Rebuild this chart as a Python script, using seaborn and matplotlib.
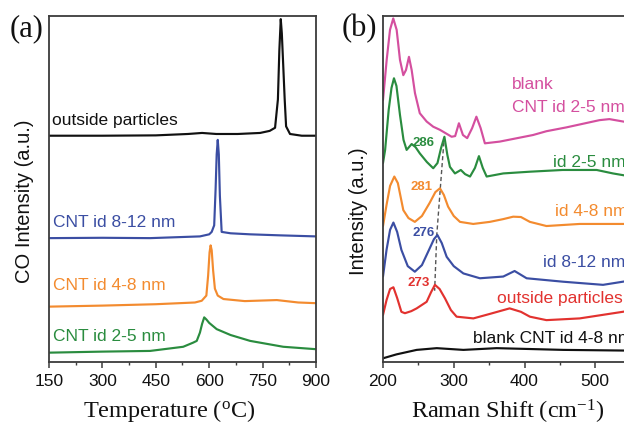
import numpy as np
import pandas as pd
import matplotlib
matplotlib.use("Agg")
import matplotlib.pyplot as plt
import seaborn as sns
from matplotlib.ticker import MultipleLocator

# ---------------- data : panel (a) TPO CO intensity ----------------
t_outside = [150, 300, 450, 540, 580, 620, 680, 743, 770, 785, 793, 797, 801, 804, 808, 812, 816, 827, 860, 900]
i_outside = [65.4, 65.4, 65.5, 65.9, 66.2, 65.9, 65.9, 66.2, 66.8, 67.7, 75.9, 90.0, 99.1, 95.0, 85.6, 76.0, 68.1, 65.9, 65.4, 65.4]

t_812 = [150, 300, 434, 574, 600, 607, 614, 618, 621, 624, 627, 630, 635, 660, 715, 800, 900]
i_812 = [35.8, 35.9, 35.8, 36.3, 36.9, 37.6, 39.5, 50.0, 60.0, 64.2, 60.0, 48.0, 37.6, 37.2, 36.9, 36.6, 36.3]

t_48 = [150, 300, 450, 560, 579, 592, 597, 601, 604, 607, 611, 616, 624, 640, 700, 790, 850, 900]
i_48 = [16.0, 16.3, 16.7, 17.2, 17.7, 19.2, 25.0, 31.7, 33.7, 32.3, 26.5, 21.2, 19.2, 18.2, 17.6, 17.9, 17.2, 17.0]

t_25 = [150, 300, 434, 527, 555, 565, 574, 580, 586, 592, 600, 621, 660, 715, 808, 900]
i_25 = [2.7, 3.0, 3.2, 4.4, 5.6, 6.1, 8.5, 11.0, 12.9, 12.3, 11.3, 9.5, 7.8, 6.1, 4.4, 3.7]

# ---------------- data : panel (b) Raman spectra ----------------
s_pink = [200, 205.2, 209.9, 214.5, 219.3, 224, 228.7, 232.5, 236.7, 240.5, 245.2, 252, 261.7, 271, 280.5, 297, 302, 307.3, 313, 319, 326, 332, 338, 344, 365, 412, 431, 459, 506, 520, 545]
i_pink = [75.7, 87.3, 96.0, 99.3, 96.0, 87.3, 82.9, 84.4, 88.2, 84.4, 77.7, 71.9, 69.5, 68.0, 67.1, 65.1, 65.3, 69.0, 65.6, 64.7, 67.6, 70.9, 67.6, 63.2, 63.7, 65.6, 66.7, 67.8, 69.9, 70.2, 69.3]

s_green = [200, 203, 208, 212, 215.5, 219, 224, 229, 233.4, 240.5, 246, 252, 262, 271, 277, 282, 286.8, 291, 294.6, 301.7, 310, 316, 323, 330, 335.6, 341, 346.5, 370, 407.6, 454, 502, 525, 545]
i_green = [57.5, 61.3, 72.8, 79.2, 82.0, 79.8, 71.4, 64.2, 61.3, 63.0, 62.1, 60.3, 57.8, 56.0, 57.5, 61.8, 65.1, 59.8, 56.4, 54.5, 55.5, 54.3, 53.6, 56.1, 59.5, 56.1, 53.6, 54.5, 55.0, 55.5, 55.5, 54.5, 53.8]

s_orange = [200, 205, 210, 216, 221, 228.7, 236, 245, 255, 266, 274, 280.5, 286, 292, 300, 308.8, 327.5, 351, 370, 384, 395, 407.6, 431, 478, 545]
i_orange = [39.3, 45.4, 50.9, 53.6, 51.7, 43.9, 41.6, 40.5, 42.2, 46.0, 49.1, 50.2, 48.3, 44.9, 42.2, 40.5, 39.9, 40.5, 41.3, 42.0, 41.9, 40.5, 39.3, 39.9, 39.9]

s_blue = [200, 205, 210, 214.7, 220, 226, 235, 245, 255, 265, 272, 276.9, 283, 290, 300, 313.6, 337, 370, 386, 403, 454.8, 511, 545]
i_blue = [24.7, 32.4, 38.2, 40.3, 37.6, 32.4, 27.7, 26.1, 28.0, 32.4, 35.5, 36.7, 34.4, 30.4, 27.7, 25.6, 24.2, 24.7, 26.3, 24.2, 23.2, 22.3, 23.4]

s_red = [200, 205, 210, 214.7, 220, 226, 231, 240, 247.6, 255, 261.7, 268, 273.4, 280, 287.6, 296, 304, 327.7, 351, 379, 395, 407.6, 431, 478, 545]
i_red = [13.6, 17.9, 21.1, 21.6, 18.5, 14.5, 14.1, 14.7, 15.5, 16.5, 17.4, 20.2, 22.3, 21.1, 18.4, 15.0, 13.1, 12.6, 13.9, 15.5, 14.5, 13.1, 12.1, 12.6, 14.7]

s_black = [200, 219, 247.6, 276, 313.6, 360.6, 454.8, 545]
i_black = [1.07, 2.2, 3.5, 4.0, 3.5, 4.0, 3.5, 3.3]

peak_pos = [286, 281, 276, 273]
peak_int = [63.5, 50.2, 36.7, 20.6]
peak_txt = ["286", "281", "276", "273"]

# ---------------- style ----------------
sns.set_theme(style="ticks")
plt.rcParams["font.family"] = ["Liberation Sans", "DejaVu Sans"]
plt.rcParams["mathtext.fontset"] = "custom"
plt.rcParams["mathtext.rm"] = "Liberation Serif"

C_BLACK = "#111111"
C_BLUE = "#3b4ea3"
C_ORANGE = "#f38b2f"
C_GREEN = "#2a8c3f"
C_PINK = "#d44f9f"
C_RED = "#e2322f"
SPINE = "#3c3c3c"

W, H = 624, 424
fig = plt.figure(figsize=(W / 100, H / 100), dpi=100)
fig.patch.set_facecolor("white")

def px_axes(l, t, r, b):
    return [l / W, 1 - b / H, (r - l) / W, (b - t) / H]

axa = fig.add_axes(px_axes(49, 16, 316, 362))
axb = fig.add_axes(px_axes(383, 16, 666, 362))

LW = 1.55
for x, y, c in [(t_outside, i_outside, C_BLACK), (t_812, i_812, C_BLUE),
                (t_48, i_48, C_ORANGE), (t_25, i_25, C_GREEN)]:
    sns.lineplot(x=x, y=y, ax=axa, color=c, linewidth=LW, estimator=None, sort=False)

for x, y, c in [(s_pink, i_pink, C_PINK), (s_green, i_green, C_GREEN),
                (s_orange, i_orange, C_ORANGE), (s_blue, i_blue, C_BLUE),
                (s_red, i_red, C_RED), (s_black, i_black, C_BLACK)]:
    sns.lineplot(x=x, y=y, ax=axb, color=c, linewidth=LW, estimator=None, sort=False)

axb.plot(peak_pos, peak_int, ls=(0, (3, 2)), color="#555555", lw=1.0, zorder=1)

serif = ["Liberation Serif", "DejaVu Serif"]

# axes formatting
for ax in (axa, axb):
    for sp in ax.spines.values():
        sp.set_color(SPINE)
        sp.set_linewidth(1.3)
    ax.set_yticks([])
    ax.tick_params(axis="x", which="major", direction="out", length=4.5, width=1.1,
                   color=SPINE, labelsize=12.5, pad=4, labelcolor="#111111")
    ax.tick_params(axis="x", which="minor", direction="out", length=2.5, width=1.0, color=SPINE)
    ax.set_ylim(0, 100)

axa.set_xlim(150, 900)
axa.xaxis.set_major_locator(MultipleLocator(150))
axa.xaxis.set_minor_locator(MultipleLocator(75))
axb.set_xlim(200, 600)
axb.xaxis.set_major_locator(MultipleLocator(100))
axb.xaxis.set_minor_locator(MultipleLocator(50))

axa.set_xlabel(r"Temperature ($\mathregular{^{o}}$C)", fontsize=17.5, family=serif, color="#111111")
axa.xaxis.set_label_coords((169 - 49) / 267, -0.105)
axa.set_ylabel("CO Intensity (a.u.)", fontsize=14.5, color="#111111")
axa.yaxis.set_label_coords(-0.055, 0.464)

axb.set_xlabel(r"Raman Shift (cm$\mathregular{^{-1}}$)", fontsize=17.5, family=serif, color="#111111")
axb.xaxis.set_label_coords((508 - 383) / 283, -0.105)
axb.set_ylabel("Intensity (a.u.)", fontsize=14.5, color="#111111")
axb.yaxis.set_label_coords(-0.052, 0.436)

# curve labels panel (a)
FS = 12.5
axa.text(158, 68.6, "outside particles", color=C_BLACK, fontsize=FS)
axa.text(162, 39.0, "CNT id 8-12 nm", color=C_BLUE, fontsize=FS)
axa.text(162, 20.8, "CNT id 4-8 nm", color=C_ORANGE, fontsize=FS)
axa.text(162, 6.1, "CNT id 2-5 nm", color=C_GREEN, fontsize=FS)

# curve labels panel (b)
axb.text(381.8, 78.8, "blank", color=C_PINK, fontsize=FS)
axb.text(381.8, 72.2, "CNT id 2-5 nm", color=C_PINK, fontsize=FS)
axb.text(439.7, 56.4, "id 2-5 nm", color=C_GREEN, fontsize=FS)
axb.text(443.0, 42.2, "id 4-8 nm", color=C_ORANGE, fontsize=FS)
axb.text(426.4, 27.5, "id 8-12 nm", color=C_BLUE, fontsize=FS)
axb.text(360.6, 17.0, "outside particles", color=C_RED, fontsize=FS)
axb.text(326.7, 5.6, "blank CNT id 4-8 nm", color=C_BLACK, fontsize=FS)

ann_xy = [(257.9, 63.3), (255.0, 50.6), (257.2, 37.3), (250.1, 22.8)]
for (x, y), txt, c in zip(ann_xy, peak_txt, [C_GREEN, C_ORANGE, C_BLUE, C_RED]):
    axb.text(x, y, txt, color=c, fontsize=9.5, fontweight="bold", ha="center", va="center")

fig.text(27 / W, 1 - 29 / H, "(a)", fontsize=22, family=serif, ha="center", va="center", color="#111111")
fig.text(359 / W, 1 - 29 / H, "(b)", fontsize=22, family=serif, ha="center", va="center", color="#111111")

fig.savefig("out.png", dpi=100)
